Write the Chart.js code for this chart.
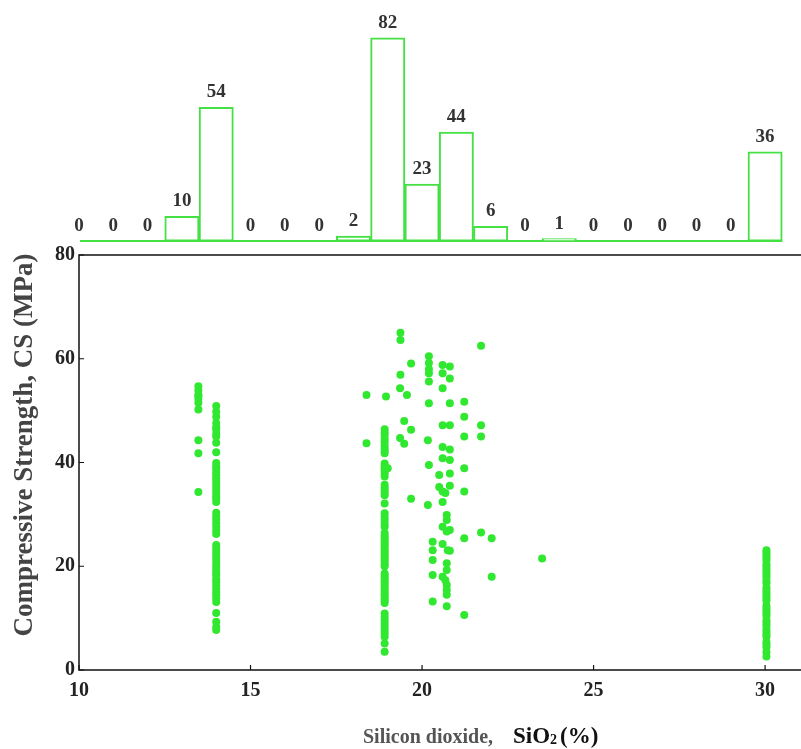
<!DOCTYPE html>
<html>
<head>
<meta charset="utf-8">
<script src="https://cdn.jsdelivr.net/npm/chart.js@4.4.1/dist/chart.umd.min.js"></script>
<style>
  html, body { margin: 0; padding: 0; background: #fff; }
  #wrap { width: 801px; height: 749px; }
</style>
</head>
<body>
<div id="wrap"><canvas id="chart" width="801" height="749"></canvas></div>
<script>
// histogram of SiO2 (bin centres and counts shown above the bars)
const binCenters = [10, 11, 12, 13, 14, 15, 16, 17, 18, 19, 20, 21, 22, 23, 24, 25, 26, 27, 28, 29, 30];
const binCounts = [0, 0, 0, 10, 54, 0, 0, 0, 2, 82, 23, 44, 6, 0, 1, 0, 0, 0, 0, 0, 36];

// mixes that sit in vertical columns (same SiO2 value)
const colSiO2 = [13.48, 14.0, 18.91, 30.04];
const colCS_1348 = [54.7, 53.9, 53.0, 52.8, 52.3, 51.5, 50.2, 44.3, 41.8, 34.3];
const colCS_14 = [
  50.9, 49.8, 48.8, 47.6, 46.8, 46.3, 45.5, 45.0, 43.8, 42.0,
  39.9, 39.3, 38.8, 38.1, 37.6, 37.0, 36.5, 35.9, 35.3, 34.7, 34.1, 33.5, 33.0, 32.4,
  30.3, 29.6, 29.0, 28.3, 27.6, 26.9, 26.2,
  24.1, 23.5, 23.0, 22.3, 21.8, 21.2, 20.5, 19.9, 19.3, 18.7, 18.2, 17.5, 16.9, 16.3, 15.6, 15.0, 14.4, 13.8, 13.1,
  11.0, 9.3, 8.3, 7.7
];
const colCS_1891 = [
  46.4, 45.8, 45.3, 44.6, 44.0, 43.3, 42.7, 42.2, 41.8,
  39.8, 39.3, 38.9, 38.4, 37.9, 37.3,
  35.7, 35.2, 34.7, 34.2, 33.7, 32.1,
  30.2, 29.5, 28.9, 28.2, 27.6,
  26.4, 25.9, 25.5, 25.0, 24.6, 24.1, 23.7, 23.2, 22.8, 22.3, 21.9, 21.4, 21.0, 20.5, 20.0,
  18.6, 18.2, 17.8, 17.3, 16.9, 16.4, 16.0, 15.5, 15.1, 14.6, 14.2, 13.7, 13.3, 12.9,
  10.9, 10.2, 9.6, 8.9, 8.3, 7.7, 7.1, 6.4, 5.1, 3.5
];
const colCS_30 = [
  23.1, 22.6, 22.1, 21.6, 21.1, 20.4, 19.9, 19.4, 18.9, 18.4, 17.9, 17.2, 16.7,
  15.9, 15.4, 14.9, 14.4, 13.9, 13.4, 12.4, 11.9, 11.4, 10.9, 10.4,
  9.6, 9.1, 8.6, 7.9, 7.4, 6.9, 6.4, 5.4, 4.9, 4.4, 3.4, 2.6
];

// the scattered mixes between 18 and 24 % SiO2
const looseSiO2 = [
  18.38, 18.38, 18.95, 19.0,
  19.37, 19.37, 19.68, 19.37, 19.36, 19.56, 19.48, 19.68, 19.36, 19.48, 19.68,
  20.2, 20.2, 20.2, 20.2, 20.2, 20.2, 20.17, 20.2, 20.17, 20.31, 20.31, 20.31, 20.31, 20.31,
  20.6, 20.81, 20.6, 20.81, 20.6, 20.81, 20.6, 20.81, 20.6, 20.81, 20.6, 20.81, 20.5, 20.81,
  20.5, 20.81, 20.6, 20.68, 20.6, 20.72, 20.72, 20.6, 20.72, 20.81, 20.6, 20.75, 20.81,
  20.72, 20.72, 20.6, 20.68, 20.72, 20.72, 20.72, 20.72,
  21.23, 21.23, 21.23, 21.23, 21.23, 21.23, 21.23,
  21.72, 21.72, 21.72, 21.72, 22.03, 22.03, 23.5
];
const looseCS = [
  53.0, 43.7, 52.7, 38.9,
  65.0, 63.6, 59.1, 56.9, 54.3, 53.0, 48.0, 46.3, 44.7, 43.6, 33.0,
  60.5, 59.2, 58.0, 57.2, 55.6, 51.4, 44.3, 39.5, 31.8, 24.7, 23.1, 21.2, 18.3, 13.2,
  58.8, 58.5, 57.2, 56.2, 54.3, 51.4, 47.2, 47.2, 43.0, 42.5, 40.8, 40.5, 37.6, 37.9,
  35.3, 35.5, 34.4, 34.1, 32.4, 29.9, 28.9, 27.6, 26.7, 27.0, 24.3, 23.1, 23.0,
  20.6, 19.3, 18.0, 17.3, 16.4, 15.4, 14.5, 12.3,
  51.7, 48.8, 45.0, 38.9, 34.4, 25.4, 10.6,
  62.5, 47.2, 45.0, 26.5, 25.4, 18.0, 21.5
];

const xTicks = [10, 15, 20, 25, 30];
const yTicks = [0, 20, 40, 60, 80];

const GREEN_DOT = '#30e830';
const GREEN_BAR = '#44e044';
const SERIF = "'Liberation Serif', 'Times New Roman', serif";

const scatterPoints = [];
[colCS_1348, colCS_14, colCS_1891, colCS_30].forEach((list, i) => {
  list.forEach(v => scatterPoints.push({ x: colSiO2[i], y: v }));
});
looseSiO2.forEach((s, i) => scatterPoints.push({ x: s, y: looseCS[i] }));

const histBars = binCenters.map((c, i) => ({ x: c, y: binCounts[i] }));

// zero the label overflow padding so the plot area sits where we want it
const fixWidth = w => scale => {
  scale.width = w;
  scale.paddingTop = 0; scale.paddingBottom = 0;
};

const baseline = {
  id: 'baseline',
  beforeDatasetsDraw(chart) {
    const { ctx, chartArea, scales: { x, yh } } = chart;
    const py = yh.getPixelForValue(0);
    ctx.save();
    ctx.beginPath();
    ctx.rect(chartArea.left + 1, chartArea.top, chartArea.width, chartArea.height);
    ctx.clip();
    ctx.strokeStyle = GREEN_BAR;
    ctx.lineWidth = 2;
    ctx.beginPath();
    ctx.moveTo(x.getPixelForValue(binCenters[0] - 0.5), py);
    ctx.lineTo(x.getPixelForValue(binCenters[binCenters.length - 1] + 0.5), py);
    ctx.stroke();
    ctx.restore();
  }
};

const countLabels = {
  id: 'countLabels',
  afterDatasetsDraw(chart) {
    const { ctx } = chart;
    const meta = chart.getDatasetMeta(0);
    ctx.save();
    ctx.font = 'bold 19px ' + SERIF;
    ctx.fillStyle = '#333';
    ctx.textAlign = 'center';
    ctx.textBaseline = 'alphabetic';
    meta.data.forEach((bar, i) => {
      ctx.fillText(String(binCounts[i]), bar.x, bar.y - 10);
    });
    ctx.restore();
  }
};

const frame = {
  id: 'frame',
  afterDatasetsDraw(chart) {
    const { ctx, scales: { x, y } } = chart;
    ctx.save();
    ctx.strokeStyle = '#111';
    ctx.lineWidth = 1.5;
    ctx.beginPath();
    ctx.moveTo(chart.width, y.top);
    ctx.lineTo(x.left, y.top);
    ctx.lineTo(x.left, y.bottom);
    ctx.lineTo(chart.width, y.bottom);
    ctx.stroke();
    // short ticks pointing into the plot
    ctx.lineWidth = 1.2;
    ctx.beginPath();
    x.ticks.forEach(t => {
      const px = x.getPixelForValue(t.value);
      ctx.moveTo(px, y.bottom);
      ctx.lineTo(px, y.bottom - 5);
    });
    y.ticks.forEach(t => {
      const py = y.getPixelForValue(t.value);
      ctx.moveTo(x.left, py);
      ctx.lineTo(x.left + 5, py);
    });
    ctx.stroke();
    ctx.restore();
  }
};

const axisTitles = {
  id: 'axisTitles',
  afterDraw(chart) {
    const { ctx } = chart;
    ctx.save();
    // y title
    ctx.translate(25, 445);
    ctx.rotate(-Math.PI / 2);
    ctx.font = 'bold 27px ' + SERIF;
    ctx.fillStyle = '#444';
    ctx.textAlign = 'center';
    ctx.textBaseline = 'middle';
    ctx.fillText('Compressive Strength, CS (MPa)', 0, 0);
    ctx.restore();

    // x title: grey words, black formula
    ctx.save();
    ctx.textBaseline = 'alphabetic';
    ctx.textAlign = 'left';
    let px = 363;
    const base = 743;
    ctx.font = 'bold 20px ' + SERIF;
    ctx.fillStyle = '#555';
    ctx.fillText('Silicon dioxide,', px, base);
    px += ctx.measureText('Silicon dioxide,').width + 20;
    ctx.fillStyle = '#111';
    ctx.font = 'bold 23px ' + SERIF;
    ctx.fillText('SiO', px, base);
    px += ctx.measureText('SiO').width;
    ctx.font = 'bold 14px ' + SERIF;
    ctx.fillText('2', px, base + 1);
    px += ctx.measureText('2').width + 3;
    ctx.font = 'bold 23px ' + SERIF;
    ctx.fillText('(%)', px, base);
    ctx.restore();
  }
};

new Chart(document.getElementById('chart'), {
  type: 'scatter',
  data: {
    datasets: [
      {
        type: 'bar',
        label: 'Count',
        data: histBars,
        xAxisID: 'x',
        yAxisID: 'yh',
        backgroundColor: '#ffffff',
        borderColor: GREEN_BAR,
        borderWidth: 2,
        borderSkipped: false,
        barPercentage: 1,
        categoryPercentage: 1,
        grouped: false
      },
      {
        type: 'scatter',
        label: 'CS',
        data: scatterPoints,
        xAxisID: 'x',
        yAxisID: 'y',
        backgroundColor: GREEN_DOT,
        borderWidth: 0,
        pointRadius: 4,
        pointHoverRadius: 4
      }
    ]
  },
  options: {
    responsive: false,
    animation: false,
    devicePixelRatio: 1,
    layout: { padding: { top: 10, right: 1, left: 0, bottom: 0 } },
    plugins: { legend: { display: false }, tooltip: { enabled: false } },
    scales: {
      x: {
        type: 'linear',
        position: 'bottom',
        min: 10,
        max: 30.93,
        offset: false,
        afterBuildTicks: s => { s.ticks = xTicks.map(v => ({ value: v })); },
        afterFit: s => { s.height = 79; s.paddingLeft = 0; s.paddingRight = 0; },
        grid: { display: false, drawTicks: false },
        border: { display: false },
        ticks: {
          padding: 9,
          color: '#222',
          font: { family: SERIF, size: 20, weight: 'bold' }
        }
      },
      y: {
        type: 'linear',
        position: 'left',
        stack: 'v',
        stackWeight: 415,
        weight: 0,
        min: 0,
        max: 80,
        afterBuildTicks: s => { s.ticks = yTicks.map(v => ({ value: v })); },
        afterFit: fixWidth(79),
        grid: { display: false, drawTicks: false },
        border: { display: false },
        ticks: {
          padding: 4,
          color: '#222',
          font: { family: SERIF, size: 20, weight: 'bold' }
        }
      },
      yh: {
        type: 'linear',
        position: 'left',
        stack: 'v',
        stackWeight: 245,
        weight: 1,
        min: -5.6,
        max: 93.2,
        afterFit: fixWidth(79),
        grid: { display: false, drawTicks: false },
        border: { display: false },
        ticks: { display: false }
      }
    }
  },
  plugins: [baseline, countLabels, frame, axisTitles]
});
</script>
</body>
</html>
